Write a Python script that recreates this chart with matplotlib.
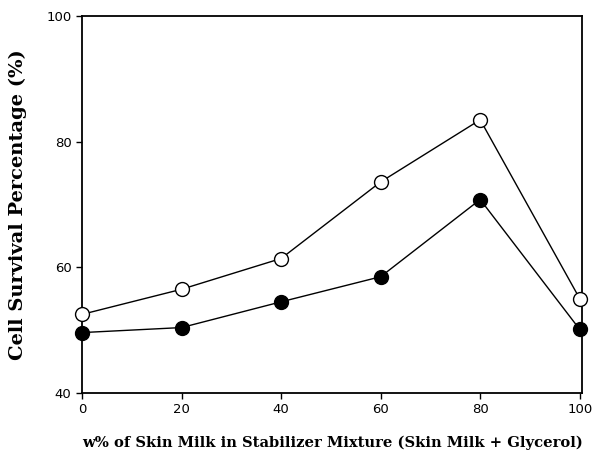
import matplotlib
matplotlib.use('Agg')
import matplotlib.pyplot as plt

# Daten
skim_milk = [0, 20, 40, 60, 80, 100]
survival_open = [52.5, 56.5, 61.4, 73.6, 83.5, 55.0]
survival_filled = [49.6, 50.4, 54.5, 58.5, 70.8, 50.1]

fig = plt.figure(figsize=(5.92, 4.5), dpi=100)
ax = fig.add_axes([0.1385, 0.127, 0.845, 0.837])

ax.plot(skim_milk, survival_open, color='black', linewidth=1.0, marker='o',
        markersize=10, markerfacecolor='white', markeredgecolor='black',
        markeredgewidth=1.0, clip_on=False, zorder=3)
ax.plot(skim_milk, survival_filled, color='black', linewidth=1.0, marker='o',
        markersize=10, markerfacecolor='black', markeredgecolor='black',
        clip_on=False, zorder=3)

ax.set_xlim(0, 100.5)
ax.set_ylim(40, 100)
ax.set_xticks([0, 20, 40, 60, 80, 100])
ax.set_yticks([40, 60, 80, 100])
ax.tick_params(direction='out', length=4, width=1, labelsize=9.5, top=False, right=False)
for s in ax.spines.values():
    s.set_linewidth(1.3)

ax.set_xlabel('w% of Skin Milk in Stabilizer Mixture (Skin Milk + Glycerol)',
              fontsize=10.6, fontweight='bold', family='DejaVu Serif', labelpad=14)
ax.set_ylabel('Cell Survival Percentage (%)', fontsize=14, fontweight='bold',
              family='DejaVu Serif', labelpad=14)

fig.savefig('out.png', dpi=100)
